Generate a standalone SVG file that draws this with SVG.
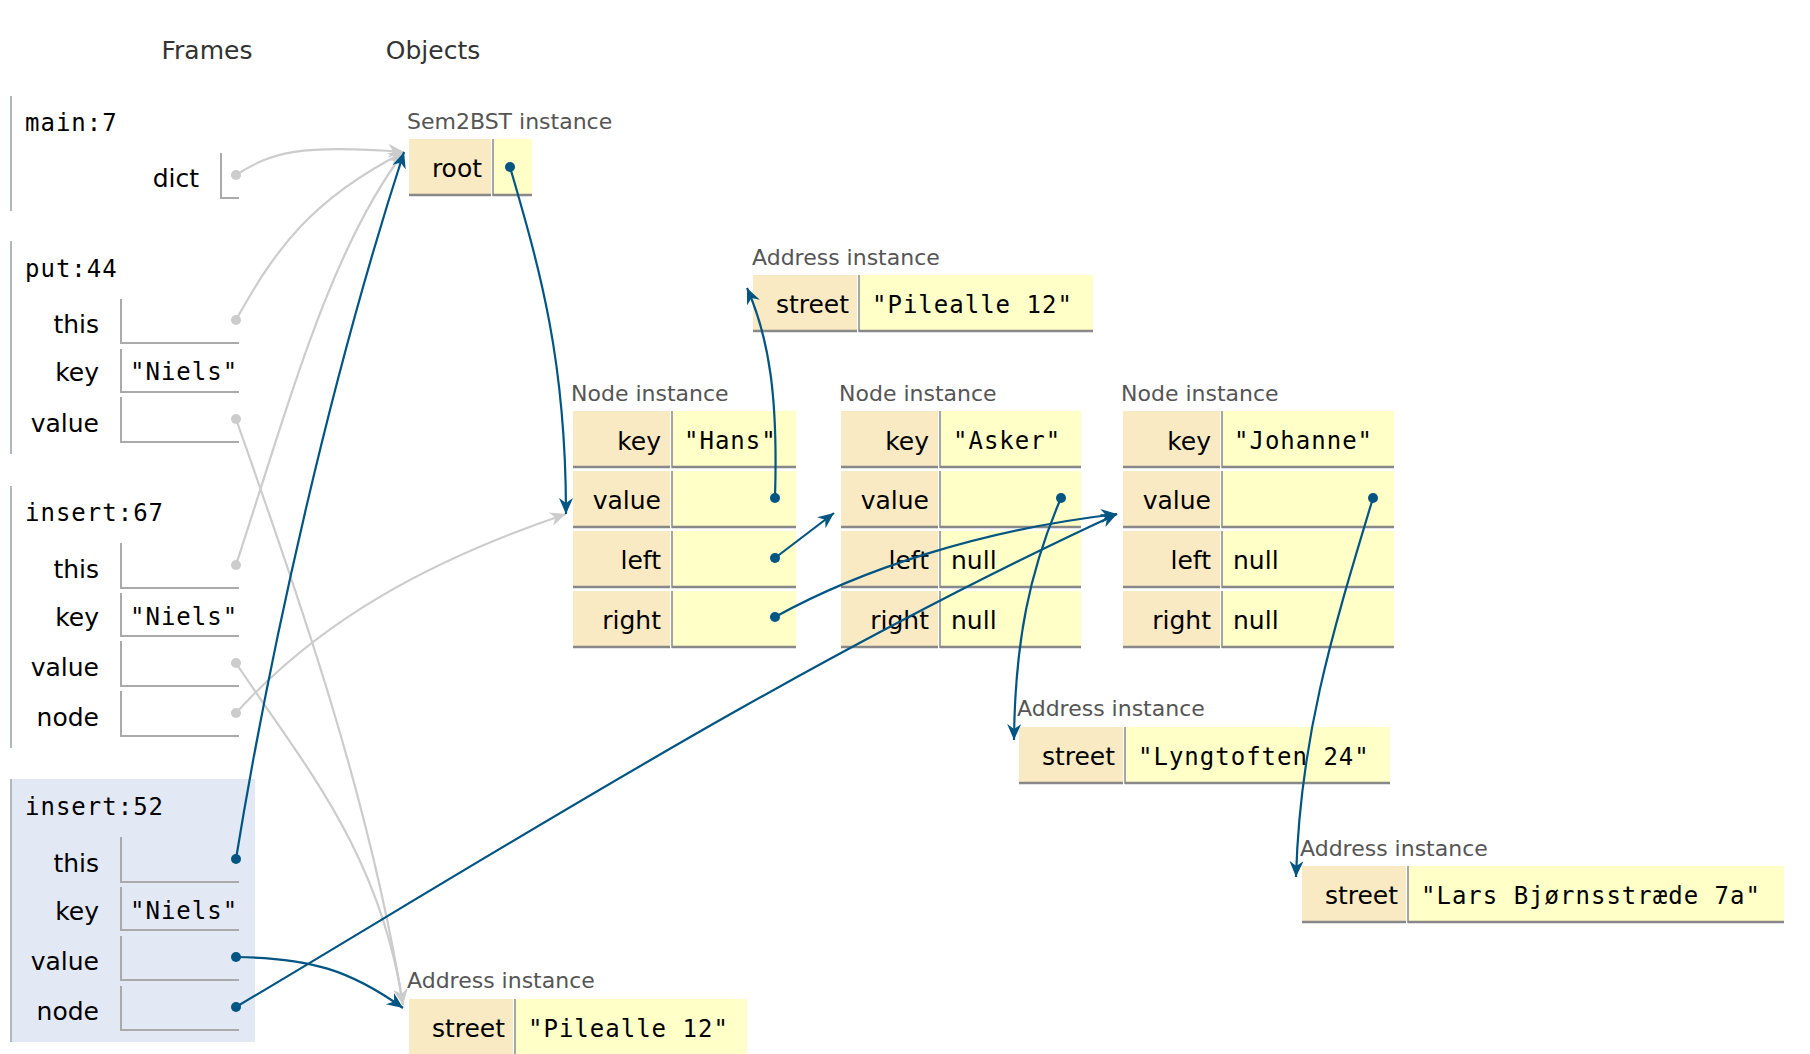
<svg xmlns="http://www.w3.org/2000/svg" width="1810" height="1054" viewBox="0 0 1810 1054">
<style>
text{font-family:"DejaVu Sans","Liberation Sans",sans-serif}
.hdr{font-size:25px;fill:#333}
.nm{font-size:25px;fill:#000}
.r{text-anchor:end}
.mono{font-family:"DejaVu Sans Mono","Liberation Mono",monospace;font-size:24px;letter-spacing:1px;fill:#000}
.ty{font-size:22px;fill:#555}
.k{fill:#faeac4}
.v{fill:#ffffc8}
.bb{stroke:#888;stroke-width:2.5}
.vl{stroke:#888;stroke-width:1.5}
.fc{stroke:#aaa;stroke-width:2;fill:none}
.bar{stroke:#b0b8ba;stroke-width:2}
.cb{stroke:#005583;stroke-width:2.2;fill:none;marker-end:url(#ab)}
.cg{stroke:#cccccc;stroke-width:2.2;fill:none;marker-end:url(#ag)}
.db{fill:#005583}
.dg{fill:#cccccc}
</style>
<defs>
<marker id="ab" markerUnits="userSpaceOnUse" markerWidth="18" markerHeight="16" refX="16" refY="7" orient="auto"><path d="M0,0 L16,7 L0,14 L5,7 z" fill="#005583"/></marker>
<marker id="ag" markerUnits="userSpaceOnUse" markerWidth="18" markerHeight="16" refX="16" refY="7" orient="auto"><path d="M0,0 L16,7 L0,14 L5,7 z" fill="#cccccc"/></marker>
</defs>
<rect width="1810" height="1054" fill="#fff"/>
<g id="headers">
<text class="hdr" x="207" y="59" text-anchor="middle">Frames</text>
<text class="hdr" x="433" y="59" text-anchor="middle">Objects</text>
</g>
<g id="frame-main">
<line class="bar" x1="11" y1="96" x2="11" y2="211"/>
<text class="mono" x="25" y="131">main:7</text>
<text class="nm r" x="199" y="187">dict</text>
<path class="fc" d="M221,153 V198 H239"/>
</g>
<g id="frame-put">
<line class="bar" x1="11" y1="241" x2="11" y2="454"/>
<text class="mono" x="25" y="277">put:44</text>
<text class="nm r" x="99" y="333">this</text>
<path class="fc" d="M121,299 V343 H239"/>
<text class="nm r" x="99" y="381">key</text>
<path class="fc" d="M121,349 V392 H239"/>
<text class="mono" x="130" y="380">"Niels"</text>
<text class="nm r" x="99" y="432">value</text>
<path class="fc" d="M121,397 V442 H239"/>
</g>
<g id="frame-insert67">
<line class="bar" x1="11" y1="486" x2="11" y2="748"/>
<text class="mono" x="25" y="521">insert:67</text>
<text class="nm r" x="99" y="578">this</text>
<path class="fc" d="M121,543 V588 H239"/>
<text class="nm r" x="99" y="626">key</text>
<path class="fc" d="M121,593 V636 H239"/>
<text class="mono" x="130" y="625">"Niels"</text>
<text class="nm r" x="99" y="676">value</text>
<path class="fc" d="M121,641 V686 H239"/>
<text class="nm r" x="99" y="726">node</text>
<path class="fc" d="M121,691 V736 H239"/>
</g>
<g id="frame-insert52">
<rect x="11" y="779" width="244" height="263" fill="#e2e9f5"/>
<line class="bar" x1="11" y1="779" x2="11" y2="1042"/>
<text class="mono" x="25" y="815">insert:52</text>
<text class="nm r" x="99" y="872">this</text>
<path class="fc" d="M121,837 V882 H239"/>
<text class="nm r" x="99" y="920">key</text>
<path class="fc" d="M121,887 V930 H239"/>
<text class="mono" x="130" y="919">"Niels"</text>
<text class="nm r" x="99" y="970">value</text>
<path class="fc" d="M121,936 V980 H239"/>
<text class="nm r" x="99" y="1020">node</text>
<path class="fc" d="M121,986 V1030 H239"/>
</g>
<g id="sem2bst">
<text class="ty" x="407" y="129">Sem2BST instance</text>
<rect class="k" x="409" y="139" width="82" height="57"/>
<rect class="v" x="494" y="139" width="38" height="57"/>
<line class="bb" x1="409" y1="195" x2="491" y2="195"/>
<line class="bb" x1="493" y1="195" x2="532" y2="195"/>
<line class="vl" x1="493" y1="139" x2="493" y2="196"/>
<text class="nm r" x="482" y="177">root</text>
</g>
<g id="address-top">
<text class="ty" x="752" y="265">Address instance</text>
<rect class="k" x="753" y="275" width="104" height="57"/>
<rect class="v" x="860" y="275" width="233" height="57"/>
<line class="bb" x1="753" y1="331" x2="857" y2="331"/>
<line class="bb" x1="859" y1="331" x2="1093" y2="331"/>
<line class="vl" x1="859" y1="275" x2="859" y2="332"/>
<text class="nm r" x="849" y="313">street</text>
<text class="mono" x="872" y="313">"Pilealle 12"</text>
</g>
<g id="node-hans">
<text class="ty" x="571" y="401">Node instance</text>
<g>
<rect class="k" x="573" y="411" width="97" height="57"/><rect class="v" x="673" y="411" width="123" height="57"/>
<rect class="k" x="573" y="471" width="97" height="57"/><rect class="v" x="673" y="471" width="123" height="57"/>
<rect class="k" x="573" y="531" width="97" height="57"/><rect class="v" x="673" y="531" width="123" height="57"/>
<rect class="k" x="573" y="591" width="97" height="57"/><rect class="v" x="673" y="591" width="123" height="57"/>
<path class="bb" d="M573,467H670M672,467H796M573,527H670M672,527H796M573,587H670M672,587H796M573,647H670M672,647H796"/>
<path class="vl" d="M672,411V468M672,471V528M672,531V588M672,591V648"/>
</g>
<text class="nm r" x="661" y="450">key</text>
<text class="nm r" x="661" y="509">value</text>
<text class="nm r" x="661" y="569">left</text>
<text class="nm r" x="661" y="629">right</text>
<text class="mono" x="684" y="449">"Hans"</text>
</g>
<g id="node-asker">
<text class="ty" x="839" y="401">Node instance</text>
<g>
<rect class="k" x="841" y="411" width="97" height="57"/><rect class="v" x="941" y="411" width="140" height="57"/>
<rect class="k" x="841" y="471" width="97" height="57"/><rect class="v" x="941" y="471" width="140" height="57"/>
<rect class="k" x="841" y="531" width="97" height="57"/><rect class="v" x="941" y="531" width="140" height="57"/>
<rect class="k" x="841" y="591" width="97" height="57"/><rect class="v" x="941" y="591" width="140" height="57"/>
<path class="bb" d="M841,467H938M940,467H1081M841,527H938M940,527H1081M841,587H938M940,587H1081M841,647H938M940,647H1081"/>
<path class="vl" d="M940,411V468M940,471V528M940,531V588M940,591V648"/>
</g>
<text class="nm r" x="929" y="450">key</text>
<text class="nm r" x="929" y="509">value</text>
<text class="nm r" x="929" y="569">left</text>
<text class="nm r" x="929" y="629">right</text>
<text class="mono" x="953" y="449">"Asker"</text>
<text class="nm" x="951" y="569">null</text>
<text class="nm" x="951" y="629">null</text>
</g>
<g id="node-johanne">
<text class="ty" x="1121" y="401">Node instance</text>
<g>
<rect class="k" x="1123" y="411" width="97" height="57"/><rect class="v" x="1223" y="411" width="171" height="57"/>
<rect class="k" x="1123" y="471" width="97" height="57"/><rect class="v" x="1223" y="471" width="171" height="57"/>
<rect class="k" x="1123" y="531" width="97" height="57"/><rect class="v" x="1223" y="531" width="171" height="57"/>
<rect class="k" x="1123" y="591" width="97" height="57"/><rect class="v" x="1223" y="591" width="171" height="57"/>
<path class="bb" d="M1123,467H1220M1222,467H1394M1123,527H1220M1222,527H1394M1123,587H1220M1222,587H1394M1123,647H1220M1222,647H1394"/>
<path class="vl" d="M1222,411V468M1222,471V528M1222,531V588M1222,591V648"/>
</g>
<text class="nm r" x="1211" y="450">key</text>
<text class="nm r" x="1211" y="509">value</text>
<text class="nm r" x="1211" y="569">left</text>
<text class="nm r" x="1211" y="629">right</text>
<text class="mono" x="1234" y="449">"Johanne"</text>
<text class="nm" x="1233" y="569">null</text>
<text class="nm" x="1233" y="629">null</text>
</g>
<g id="address-lyngtoften">
<text class="ty" x="1017" y="716">Address instance</text>
<rect class="k" x="1019" y="727" width="104" height="57"/>
<rect class="v" x="1126" y="727" width="264" height="57"/>
<line class="bb" x1="1019" y1="783" x2="1123" y2="783"/>
<line class="bb" x1="1125" y1="783" x2="1390" y2="783"/>
<line class="vl" x1="1125" y1="727" x2="1125" y2="784"/>
<text class="nm r" x="1115" y="765">street</text>
<text class="mono" x="1138" y="765">"Lyngtoften 24"</text>
</g>
<g id="address-lars">
<text class="ty" x="1300" y="856">Address instance</text>
<rect class="k" x="1302" y="866" width="104" height="57"/>
<rect class="v" x="1409" y="866" width="375" height="57"/>
<line class="bb" x1="1302" y1="922" x2="1406" y2="922"/>
<line class="bb" x1="1408" y1="922" x2="1784" y2="922"/>
<line class="vl" x1="1408" y1="866" x2="1408" y2="923"/>
<text class="nm r" x="1398" y="904">street</text>
<text class="mono" x="1421" y="904">"Lars Bjørnsstræde 7a"</text>
</g>
<g id="address-bottom">
<text class="ty" x="407" y="988">Address instance</text>
<rect class="k" x="409" y="999" width="104" height="57"/>
<rect class="v" x="516" y="999" width="231" height="57"/>
<line class="vl" x1="515" y1="999" x2="515" y2="1056"/>
<text class="nm r" x="505" y="1037">street</text>
<text class="mono" x="528" y="1037">"Pilealle 12"</text>
</g>
<g id="connectors">
<path class="cg" d="M236,175 C272,152 300,144 404,152"/>
<path class="cg" d="M236,320 C275,250 310,200 404,152"/>
<path class="cg" d="M236,565 C290,400 330,250 404,152"/>
<path class="cg" d="M236,419 C300,600 370,800 403,1005"/>
<path class="cg" d="M236,663 C300,760 380,850 403,1005"/>
<path class="cg" d="M236,713 C320,620 430,560 566,514"/>
<circle class="dg" cx="236" cy="175" r="5"/>
<circle class="dg" cx="236" cy="320" r="5"/>
<circle class="dg" cx="236" cy="419" r="5"/>
<circle class="dg" cx="236" cy="565" r="5"/>
<circle class="dg" cx="236" cy="663" r="5"/>
<circle class="dg" cx="236" cy="713" r="5"/>
<path class="cb" d="M510,167 C540,270 566,360 566,514"/>
<path class="cb" d="M775,498 C778,400 770,340 747,288"/>
<path class="cb" d="M775,558 L834,513"/>
<path class="cb" d="M775,617 C860,570 980,530 1117,514"/>
<path class="cb" d="M1061,498 C1030,570 1015,640 1014,740"/>
<path class="cb" d="M1373,498 C1330,640 1300,740 1296,877"/>
<path class="cb" d="M236,859 C270,650 330,380 404,152"/>
<path class="cb" d="M236,957 C310,958 350,970 403,1008"/>
<path class="cb" d="M236,1007 C500,850 800,660 1117,514"/>
<circle class="db" cx="510" cy="167" r="5"/>
<circle class="db" cx="775" cy="498" r="5"/>
<circle class="db" cx="775" cy="558" r="5"/>
<circle class="db" cx="775" cy="617" r="5"/>
<circle class="db" cx="1061" cy="498" r="5"/>
<circle class="db" cx="1373" cy="498" r="5"/>
<circle class="db" cx="236" cy="859" r="5"/>
<circle class="db" cx="236" cy="957" r="5"/>
<circle class="db" cx="236" cy="1007" r="5"/>
</g>
</svg>
